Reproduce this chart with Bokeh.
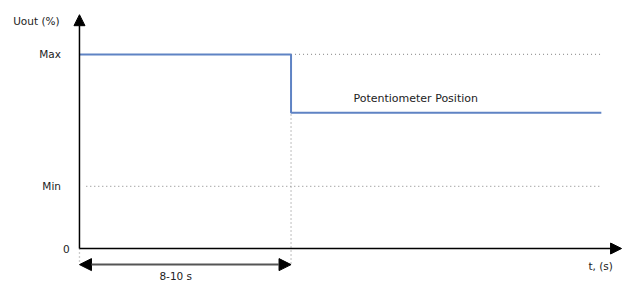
from bokeh.plotting import figure
from bokeh.models import Range1d, Arrow, NormalHead, ColumnDataSource
from bokeh.core.properties import value
from bokeh.embed import file_html
from bokeh.resources import INLINE

# ---- data ----
step_time = [0, 9, 9, 22.2]          # s
step_uout = [100, 100, 70, 70]       # %
t_step = 9                            # 8-10 s
t_end = 22.2
u_max = 100
u_min = 32
u_pot = 70
level_labels = ["Max", "Min", "0"]
level_values = [100, 32, 0]
y_title = "Uout (%)"
x_title = "t, (s)"
pulse_label = "8-10 s"
pot_label = "Potentiometer Position"

# ---- layout (reference pixel scales) ----
pps = 217 / 9.0     # ref px per second
ppu = 2.05          # ref px per percent
OX, OY = 81, 262    # origin in reference pixels
W, H = 623, 284
FONT = value("DejaVu Sans")
TXT = "#222222"


def tx(px):  # reference x pixel -> seconds
    return (px - OX) / pps


def uy(py):  # reference y pixel -> percent
    return (OY - py) / ppu


p = figure(width=W, height=H, output_backend="svg", toolbar_location=None,
           x_range=Range1d(tx(0), tx(639)),
           y_range=Range1d(uy(300), uy(0)),
           min_border=0, outline_line_color=None,
           background_fill_color="white", border_fill_color="white")
p.axis.visible = False
p.grid.visible = False

dot = dict(line_color="#9a9a9a", line_width=1.3, line_dash="1 3")
below = uy(278)
# dotted guides
p.line([t_step, t_end], [u_max, u_max], **dot)
p.line([tx(88), t_end], [u_min, u_min], **dot)
p.line([t_step, t_step], [u_max, below], **dot)
p.line([0, 0], [0, below], **dot)

# step signal
p.line(step_time, step_uout, line_color="#5f83c4", line_width=2)

# axes with arrows
head = dict(size=11, fill_color="black", line_color="black")
p.add_layout(Arrow(end=NormalHead(**head),
                   x_start=0, y_start=0, x_end=0, y_end=uy(15),
                   line_color="black", line_width=1.5))
p.add_layout(Arrow(end=NormalHead(**head),
                   x_start=0, y_start=0, x_end=tx(637), y_end=0,
                   line_color="black", line_width=1.5))

# duration double arrow
arr_y = uy(279)
p.add_layout(Arrow(start=NormalHead(size=12, fill_color="black", line_color="black"),
                   end=NormalHead(size=12, fill_color="black", line_color="black"),
                   x_start=0, y_start=arr_y, x_end=t_step, y_end=arr_y,
                   line_color="#555555", line_width=2))

# level labels
src = ColumnDataSource(dict(x=[tx(62), tx(62), tx(71)], y=level_values, t=level_labels))
p.text(x="x", y="y", text="t", source=src, text_font=FONT, text_font_size="10.5px",
       text_color=TXT, text_align="right", text_baseline="middle")

p.text(x=[tx(13)], y=[uy(22)], text=[y_title], text_font=FONT, text_font_size="10.5px",
       text_color=TXT, text_align="left", text_baseline="middle")
p.text(x=[tx(603)], y=[uy(280)], text=[x_title], text_font=FONT, text_font_size="10.5px",
       text_color=TXT, text_align="left", text_baseline="middle")
p.text(x=[tx(163)], y=[uy(291)], text=[pulse_label], text_font=FONT, text_font_size="10.5px",
       text_color=TXT, text_align="left", text_baseline="middle")
p.text(x=[tx(362)], y=[uy(103)], text=[pot_label], text_font=FONT,
       text_font_size="11px", text_color=TXT, text_align="left", text_baseline="middle")

open("out.html", "w").write(file_html(p, INLINE))
